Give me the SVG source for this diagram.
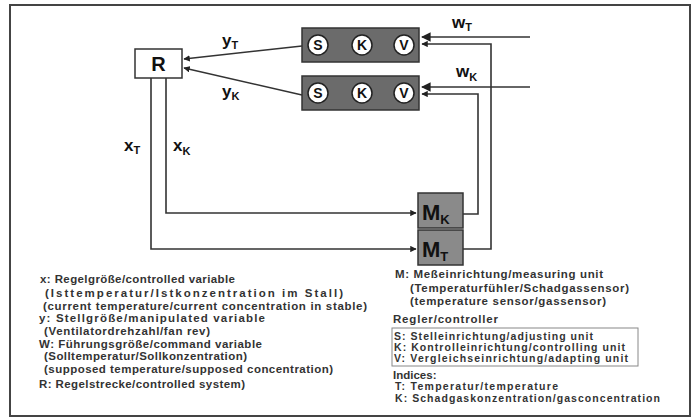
<svg xmlns="http://www.w3.org/2000/svg" width="698" height="420" viewBox="0 0 698 420">
<defs>
<style>
.ln{fill:none;stroke:#333;stroke-width:1.6}
.box{fill:#fff;stroke:#333;stroke-width:1.5}
.ctl{fill:#6b6b6b;stroke:#333;stroke-width:1.5}
.cir{fill:#fff;stroke:#222;stroke-width:1.5}
.cl{font-family:"Liberation Sans",Arial,sans-serif;font-weight:bold;font-size:14px;fill:#111;text-anchor:middle}
.lbl{font-family:"Liberation Sans",Arial,sans-serif;font-weight:bold;font-size:17px;fill:#111}
.sub{font-size:11px}
.lg{font-family:"Liberation Sans",Arial,sans-serif;font-size:11.5px;font-weight:bold;fill:#333}
.sm{font-size:10.5px}
.mb{fill:#8a8a8a;stroke:#333;stroke-width:1.5}
</style>
<marker id="ah" viewBox="0 0 10 10" refX="9" refY="5" markerWidth="6" markerHeight="6" orient="auto-start-reverse">
<path d="M0,0 L10,5 L0,10 z" fill="#222"/>
</marker>
<marker id="ahs" viewBox="0 0 10 10" refX="9" refY="5" markerWidth="4" markerHeight="4" orient="auto-start-reverse">
<path d="M0,0 L10,5 L0,10 z" fill="#222"/>
</marker>
</defs>
<rect x="0" y="0" width="698" height="420" fill="#fff"/>
<rect x="10" y="5" width="680" height="411" fill="none" stroke="#444" stroke-width="2"/>

<g id="connectors">
<line class="ln" x1="302" y1="46" x2="184" y2="59" marker-end="url(#ahs)"/>
<line class="ln" x1="302" y1="95" x2="184" y2="68" marker-end="url(#ahs)"/>
<line class="ln" x1="530" y1="37" x2="422" y2="37" marker-end="url(#ah)"/>
<line class="ln" x1="530" y1="87" x2="422" y2="87" marker-end="url(#ah)"/>
<polyline class="ln" points="463,249 491,249 491,44 422,44" marker-end="url(#ahs)"/>
<polyline class="ln" points="463,214 478,214 478,94 422,94" marker-end="url(#ahs)"/>
<polyline class="ln" points="151,78 151,249 416,249" marker-end="url(#ahs)"/>
<polyline class="ln" points="166,78 166,213 416,213" marker-end="url(#ahs)"/>
</g>

<g id="R">
<rect class="box" x="135" y="49" width="47" height="29"/>
<text x="158.5" y="71" class="lbl" text-anchor="middle" style="font-size:20px">R</text>
</g>

<g id="ctrlT">
<rect class="ctl" x="302" y="28" width="117" height="34"/>
<circle class="cir" cx="318" cy="45" r="10"/>
<circle class="cir" cx="362" cy="45" r="10"/>
<circle class="cir" cx="404" cy="45" r="10"/>
<text class="cl" x="318" y="50">S</text>
<text class="cl" x="362" y="50">K</text>
<text class="cl" x="404" y="50">V</text>
</g>

<g id="ctrlK">
<rect class="ctl" x="302" y="76" width="117" height="34"/>
<circle class="cir" cx="318" cy="93" r="10"/>
<circle class="cir" cx="362" cy="93" r="10"/>
<circle class="cir" cx="404" cy="93" r="10"/>
<text class="cl" x="318" y="98">S</text>
<text class="cl" x="362" y="98">K</text>
<text class="cl" x="404" y="98">V</text>
</g>

<g id="MK">
<rect class="mb" x="418" y="193" width="45" height="35"/>
<text class="lbl" x="422" y="220" style="font-size:22px">M<tspan dy="4" style="font-size:13px">K</tspan></text>
</g>
<g id="MT">
<rect class="mb" x="418" y="230" width="45" height="35"/>
<text class="lbl" x="422" y="257" style="font-size:22px">M<tspan dy="4" style="font-size:13px">T</tspan></text>
</g>

<g id="labels">
<text class="lbl" x="222" y="46">y<tspan class="sub" dy="3">T</tspan></text>
<text class="lbl" x="222" y="97">y<tspan class="sub" dy="3">K</tspan></text>
<text class="lbl" x="452" y="28">w<tspan class="sub" dy="3">T</tspan></text>
<text class="lbl" x="456" y="77">w<tspan class="sub" dy="4">K</tspan></text>
<text class="lbl" x="124" y="151">x<tspan class="sub" dy="3">T</tspan></text>
<text class="lbl" x="173" y="151">x<tspan class="sub" dy="4">K</tspan></text>
</g>

<g id="legendLeft" class="lg">
<text x="40" y="283" textLength="195" lengthAdjust="spacing">x: Regelgröße/controlled variable</text>
<text x="45" y="297" textLength="298" lengthAdjust="spacing">(Isttemperatur/Istkonzentration im Stall)</text>
<text x="43" y="310" textLength="324" lengthAdjust="spacing">(current temperature/current concentration in stable)</text>
<text x="39" y="322" textLength="226" lengthAdjust="spacing">y: Stellgröße/manipulated variable</text>
<text x="44" y="335" textLength="166" lengthAdjust="spacing">(Ventilatordrehzahl/fan rev)</text>
<text x="39" y="348" textLength="223" lengthAdjust="spacing">W: Führungsgröße/command variable</text>
<text x="44" y="360" textLength="203" lengthAdjust="spacing">(Solltemperatur/Sollkonzentration)</text>
<text x="44" y="373" textLength="289" lengthAdjust="spacing">(supposed temperature/supposed concentration)</text>
<text x="39" y="388" textLength="206" lengthAdjust="spacing">R: Regelstrecke/controlled system)</text>
</g>

<g id="legendRight" class="lg">
<text x="395" y="278" textLength="208" lengthAdjust="spacing">M: Meßeinrichtung/measuring unit</text>
<text x="410" y="292" textLength="219" lengthAdjust="spacing">(Temperaturfühler/Schadgassensor)</text>
<text x="410" y="305" textLength="196" lengthAdjust="spacing">(temperature sensor/gassensor)</text>
<text x="393" y="323" textLength="105" lengthAdjust="spacing">Regler/controller</text>
<rect x="392" y="328" width="246" height="38" fill="none" stroke="#888" stroke-width="1"/>
<text class="sm" x="394" y="340" textLength="199" lengthAdjust="spacing">S: Stelleinrichtung/adjusting unit</text>
<text class="sm" x="394" y="351" textLength="231" lengthAdjust="spacing">K: Kontrolleinrichtung/controlling unit</text>
<text class="sm" x="394" y="362" textLength="234" lengthAdjust="spacing">V: Vergleichseinrichtung/adapting unit</text>
<text x="393" y="379">Indices:</text>
<text class="sm" x="395" y="390" textLength="163" lengthAdjust="spacing">T: Temperatur/temperature</text>
<text class="sm" x="395" y="402" textLength="265" lengthAdjust="spacing">K: Schadgaskonzentration/gasconcentration</text>
</g>
</svg>
